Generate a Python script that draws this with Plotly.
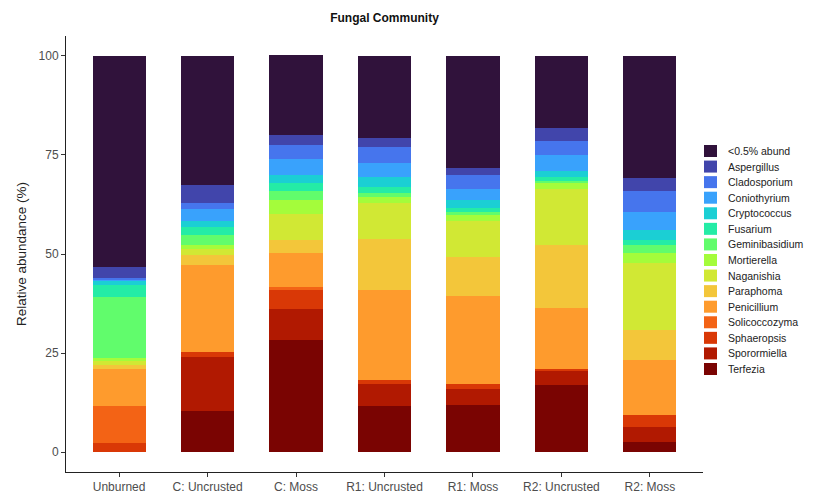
import plotly.graph_objects as go

# Sample sites along the x axis
sites = ["Unburned", "C: Uncrusted", "C: Moss", "R1: Uncrusted",
         "R1: Moss", "R2: Uncrusted", "R2: Moss"]

# Genera, listed from the bottom of each stack to the top
genera = ["Terfezia", "Sporormiella", "Sphaeropsis", "Solicoccozyma",
          "Penicillium", "Paraphoma", "Naganishia", "Mortierella",
          "Geminibasidium", "Fusarium", "Cryptococcus", "Coniothyrium",
          "Cladosporium", "Aspergillus", "<0.5% abund"]

# Relative abundance (%) of each genus per site
terfezia       = [0.0, 10.5, 28.3, 11.6, 12.0, 17.0, 2.6]
sporormiella   = [0.0, 13.5, 7.7, 5.5, 4.0, 3.5, 3.8]
sphaeropsis    = [2.2, 1.3, 5.0, 1.0, 1.3, 0.5, 2.9]
solicoccozyma  = [9.4, 0.0, 0.7, 0.0, 0.0, 0.0, 0.0]
penicillium    = [9.5, 22.0, 8.5, 22.8, 22.0, 15.3, 14.0]
paraphoma      = [1.0, 2.5, 3.3, 13.0, 10.0, 16.0, 7.5]
naganishia     = [0.8, 1.5, 6.5, 9.0, 9.0, 14.0, 17.0]
mortierella    = [0.8, 1.0, 3.5, 1.5, 1.5, 1.5, 2.5]
geminibasidium = [15.5, 2.5, 2.5, 1.0, 0.7, 0.7, 2.0]
fusarium       = [3.0, 2.0, 2.0, 1.5, 1.0, 1.0, 1.2]
cryptococcus   = [1.0, 1.5, 2.0, 2.5, 2.0, 1.5, 2.5]
coniothyrium   = [0.3, 3.0, 4.0, 3.5, 3.0, 4.0, 4.5]
cladosporium   = [0.5, 1.5, 3.5, 4.0, 3.5, 3.4, 5.5]
aspergillus    = [2.8, 4.5, 2.5, 2.3, 1.6, 3.3, 3.3]
low_abund      = [53.2, 32.7, 20.2, 20.8, 28.4, 18.3, 30.7]

series = [terfezia, sporormiella, sphaeropsis, solicoccozyma, penicillium,
          paraphoma, naganishia, mortierella, geminibasidium, fusarium,
          cryptococcus, coniothyrium, cladosporium, aspergillus, low_abund]

# Turbo palette, dark red (bottom) to dark purple (top)
colors = ["#7a0402", "#b11901", "#d93806", "#f36315", "#fe9b2d",
          "#f3c63a", "#d1e834", "#a4fc3b", "#61fc6c", "#24eca6",
          "#1bcfd4", "#39a2fc", "#4675ed", "#4145ab", "#30123b"]

W, H = 838, 497
ML, MR, MT, MB = 66, 135, 36, 25
PW, PH = W - ML - MR, H - MT - MB
FONT = "Liberation Sans, Arial, sans-serif"


def px_x(px):
    return (px - ML) / PW


def px_y(py):
    return (H - MB - py) / PH


fig = go.Figure()
for name, vals, col in zip(genera, series, colors):
    fig.add_trace(go.Bar(x=sites, y=vals, name=name, showlegend=False,
                         marker=dict(color=col, line=dict(width=0))))

# Compact key on the right: dark purple entry on top, Terfezia at the bottom
shapes, annotations = [], []
key_top, key_step = 151.0, 15.57
for i, (name, col) in enumerate(zip(reversed(genera), reversed(colors))):
    cy = key_top + i * key_step
    shapes.append(dict(type="rect", xref="paper", yref="paper",
                       x0=px_x(704), x1=px_x(717),
                       y0=px_y(cy + 6), y1=px_y(cy - 6),
                       fillcolor=col, line=dict(width=0), layer="above"))
    annotations.append(dict(text=name, xref="paper", yref="paper",
                            x=px_x(726), y=px_y(cy), xanchor="left",
                            yanchor="middle", showarrow=False,
                            font=dict(family=FONT, size=10.5, color="#222")))

tick_font = dict(family=FONT, size=12, color="#4d4d4d")

fig.update_layout(
    barmode="stack",
    bargap=0.4,
    width=W, height=H,
    margin=dict(l=ML, r=MR, t=MT, b=MB, autoexpand=False),
    paper_bgcolor="white",
    plot_bgcolor="white",
    font=dict(family=FONT, size=11, color="#222"),
    title=dict(text="<b>Fungal Community</b>", x=px_x(384.5) * PW / W + ML / W,
               xanchor="center", y=1 - 18 / H, yanchor="middle",
               font=dict(size=12, color="#111")),
    shapes=shapes,
    annotations=annotations,
    xaxis=dict(range=[-0.6, 6.6], showline=True, linecolor="#222", linewidth=1,
               ticks="outside", ticklen=4, tickcolor="#333", tickfont=tick_font,
               showgrid=False, zeroline=False, automargin=False),
    yaxis=dict(range=[-5, 105], showline=True, linecolor="#222", linewidth=1,
               tickvals=[0, 25, 50, 75, 100], ticks="outside", ticklen=4,
               tickcolor="#333", tickfont=tick_font, showgrid=False,
               zeroline=False, automargin=False,
               title=dict(text="Relative abundance (%)", standoff=8,
                          font=dict(size=13.5, color="#222"))),
)

fig.write_html("out.html")
